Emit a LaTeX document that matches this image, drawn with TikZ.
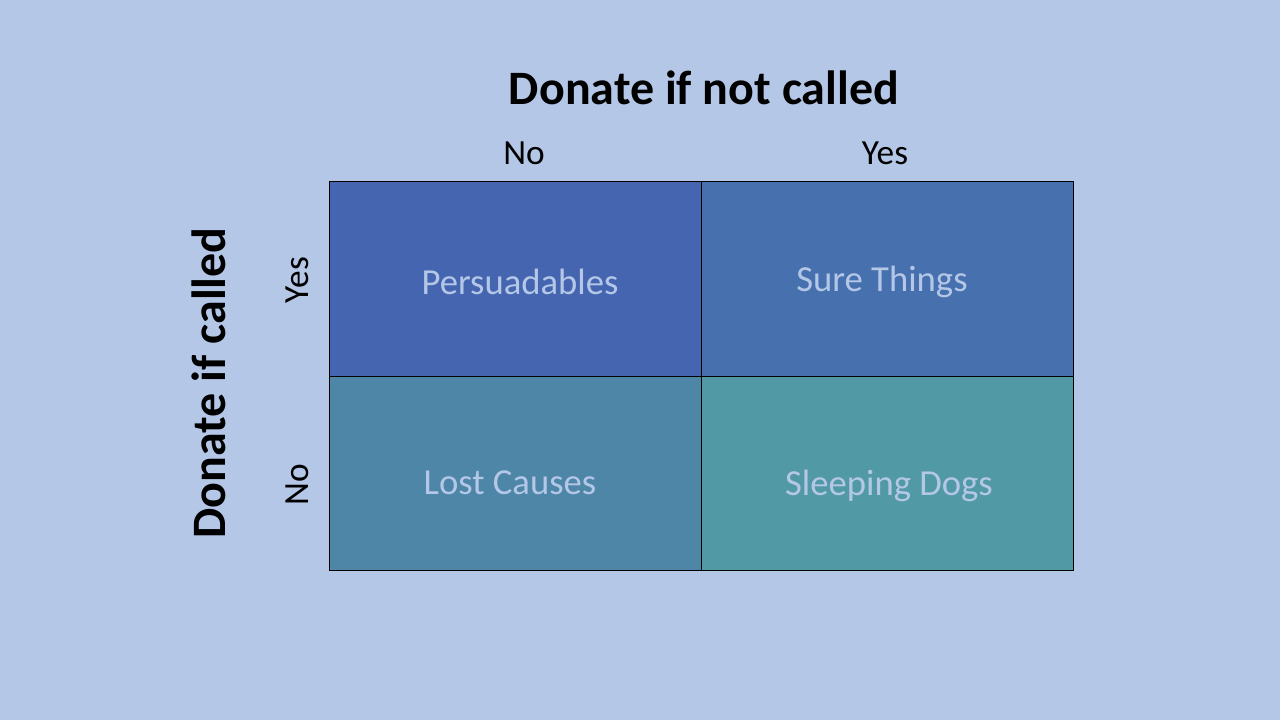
\documentclass[tikz,border=0pt]{standalone}
\usepackage{fontspec}
\setmainfont{Carlito}
\usetikzlibrary{positioning}
\definecolor{slidebg}{HTML}{B4C7E7}
\definecolor{cellpe}{HTML}{4565B0}
\definecolor{cellsu}{HTML}{4770AE}
\definecolor{celllo}{HTML}{4E86A8}
\definecolor{cellsl}{HTML}{5299A6}
\definecolor{celltext}{HTML}{B4C7E7}
\tikzstyle{cell} = [rectangle, draw=black, line width=0.75pt, minimum width=279pt, minimum height=145.5pt, inner sep=0pt]
\tikzstyle{celllabel} = [text=celltext, font=\fontsize{27.5}{32}\selectfont]
\tikzstyle{axislabel} = [font=\fontsize{26.5}{31}\selectfont]
\tikzstyle{axistitle} = [font=\fontsize{36}{42}\selectfont\bfseries]

\begin{document}
\begin{tikzpicture}[x=0.75pt,y=-0.75pt]
\fill [slidebg] (0,0) rectangle (1280,720);
\useasboundingbox (0,0) rectangle (1280,720);
\draw (515,279) node (pe) [cell, fill=cellpe] {};
\draw (887,279) node (su) [cell, fill=cellsu] {};
\draw (515,473) node (lo) [cell, fill=celllo] {};
\draw (887,473) node (sl) [cell, fill=cellsl] {};
%
\node (tpe) [celllabel] at (520,282) {Persuadables};
\node (tsu) [celllabel] at (882,282) {Sure Things};
\node (tlo) [celllabel] at (510,483) {Lost Causes};
\node (tsl) [celllabel] at (889,486) {Sleeping Dogs};
%
\node (cno) [axislabel] at (524,153) {No};
\node (cyes) [axislabel] at (885,153) {Yes};
\node (ryes) [axislabel, rotate=90] at (297,280) {Yes};
\node (rno) [axislabel, rotate=90] at (297,485) {No};
\node (top) [axistitle] at (704,88) {Donate if not called};
\node (side) [axistitle, rotate=90] at (209,383) {Donate if called};
\end{tikzpicture}
\end{document}
